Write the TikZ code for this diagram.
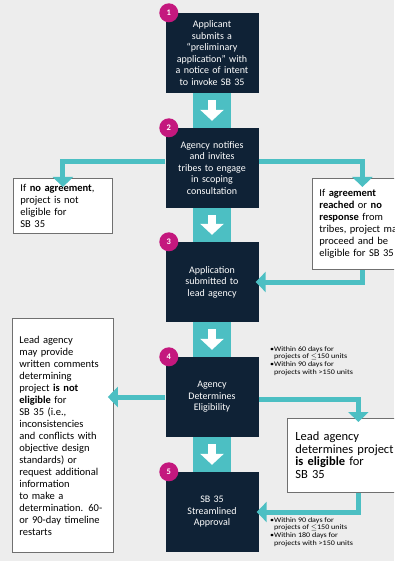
\documentclass[tikz,border=0pt]{standalone}
\usepackage{fontspec}
\setmainfont{Carlito}
\newfontfamily\notefont{Carlito}[FakeStretch=1.15]
\usetikzlibrary{arrows.meta, positioning, calc}
\definecolor{navy}{HTML}{0F2236}
\definecolor{tealc}{HTML}{4CBFC3}
\definecolor{magc}{HTML}{C4187E}
\definecolor{bgc}{HTML}{EDEDED}
\definecolor{edgec}{HTML}{707070}
\tikzset{
  stepbox/.style={fill=navy, text=white, align=center, text width=85pt, minimum width=93pt,
                  minimum height=80pt, inner sep=0pt, font=\fontsize{10}{11.5}\selectfont},
  sidebox/.style={draw=edgec, fill=white, line width=0.8pt, align=left, anchor=north west,
                  inner xsep=7pt, inner ysep=4pt, font=\fontsize{10.5}{12}\selectfont},
  num/.style={circle, fill=magc, text=white, font=\bfseries\fontsize{8.5}{8.5}\selectfont,
              inner sep=0pt, minimum size=19pt},
  conn/.style={draw=tealc, line width=5pt, -{Triangle[length=10pt,width=20pt]}},
  down/.style={draw=white, line width=8pt, -{Triangle[length=11pt,width=23pt]},
               shorten <=7pt, shorten >=7pt},
  note/.style={font=\notefont\fontsize{7}{7.6}\selectfont, align=left, inner sep=0pt, anchor=north west},
}

\begin{document}
\begin{tikzpicture}[x=1pt, y=-1pt]
\useasboundingbox (0,0) rectangle (394,561);
\clip (0,0) rectangle (394,561);
\fill[bgc] (0,0) rectangle (394,561);

% ---------------- main column ----------------
\fill[tealc] (193,53) rectangle (231,512);
\node[stepbox] (step1) at (212,53) {Applicant\\submits a\\“preliminary\\application” with\\a notice of intent\\to invoke SB 35};
\node[stepbox] (step2) at (212,168) {Agency notifies\\and invites\\tribes to engage\\in scoping\\consultation};
\node[stepbox] (step3) at (212,282) {Application\\submitted to\\lead agency};
\node[stepbox] (step4) at (212,397) {Agency\\Determines\\Eligibility};
\node[stepbox] (step5) at (212,512) {SB 35\\Streamlined\\Approval};
\foreach \a/\b in {step1/step2, step2/step3, step3/step4, step4/step5}
  \draw[down] (\a.south) -- (\b.north);
\foreach \i in {1,...,5}
  \node[num] (n\i) at ([xshift=3.5pt]step\i.north west) {\i};

% ---------------- tribal consultation ----------------
\node[sidebox, text width=85pt, minimum height=55pt] (noagree) at (13,178)
  {If \textbf{no agreement},\\project is not\\eligible for\\SB 35};
\node[sidebox, text width=86pt, minimum height=91pt] (agree) at (312,178)
  {If \textbf{agreement}\\\textbf{reached} or \textbf{no}\\\textbf{response} from\\tribes, project may\\proceed and be\\eligible for SB 35};
\draw[conn, shorten >=-9pt] ([yshift=6pt]step2.west) -| (noagree.north);
\draw[conn, shorten >=-9pt] ([yshift=6pt]step2.east) -| (agree.north);
\draw[conn, shorten >=-3pt] (agree.south) |- (step3.east);

% ---------------- eligibility ----------------
\node[sidebox, text width=87pt, minimum height=234pt] (noteligible) at (12,318)
  {Lead agency\\may provide\\written comments\\determining\\project \textbf{is not}\\\textbf{eligible} for\\SB 35 (i.e.,\\inconsistencies\\and conflicts with\\objective design\\standards) or\\request additional\\information\\to make a\\determination. 60-\\or 90-day timeline\\restarts};
\node[sidebox, text width=126pt, minimum height=74pt, inner xsep=8pt,
      font=\fontsize{12.5}{12.5}\selectfont] (eligible) at (287,418)
  {Lead agency\\determines project\\\textbf{is eligible} for\\SB 35};
\draw[conn, shorten >=-6pt] (step4.west) -- (step4.west -| noteligible.east);
\draw[conn, shorten >=-4pt] ([yshift=-2pt]step4.east) -| (eligible.north);
\draw[conn, shorten >=-2pt] (eligible.south) |- (step5.east);

% ---------------- deadlines ----------------
\node[note] (due4) at (270,346) {\textbullet Within 60 days for\\\hspace*{4pt}projects of \ensuremath{\leq}150 units\\[0.5pt]
  \textbullet Within 90 days for\\\hspace*{4pt}projects with >150 units};
\node[note] (due5) at (270,517) {\textbullet Within 90 days for\\\hspace*{4pt}projects of \ensuremath{\leq}150 units\\[0.5pt]
  \textbullet Within 180 days for\\\hspace*{4pt}projects with >150 units};

\end{tikzpicture}
\end{document}
